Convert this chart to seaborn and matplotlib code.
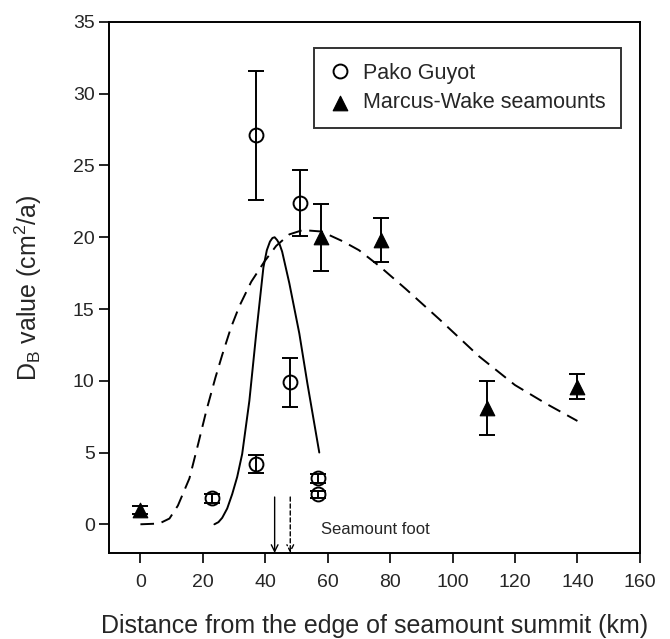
import matplotlib
matplotlib.use("Agg")
import matplotlib.pyplot as plt
import seaborn as sns
import pandas as pd

# Pako Guyot (open circles)
pako_x = [23, 37, 37, 48, 51, 57, 57]
pako_y = [1.8, 4.2, 27.1, 9.9, 22.4, 3.2, 2.1]
pako_err = [0.3, 0.65, 4.5, 1.7, 2.3, 0.3, 0.25]

# Marcus-Wake seamounts (filled triangles)
mw_x = [0, 58, 77, 111, 140]
mw_y = [1.0, 20.0, 19.8, 8.1, 9.6]
mw_err = [0.25, 2.35, 1.55, 1.9, 0.9]

# Solid fitted curve (Pako Guyot)
solid_x = [23.7, 25.0, 26.2, 27.8, 29.4, 31.0, 32.6, 34.9, 37.1, 39.4, 40.5, 41.5, 42.3, 43.0, 43.8, 44.6, 45.4, 47.7, 50.9, 53.5, 57.3]
solid_y = [0.0, 0.15, 0.45, 1.1, 2.1, 3.3, 4.9, 8.6, 13.3, 17.9, 19.1, 19.7, 19.95, 20.0, 19.8, 19.5, 19.0, 16.8, 13.3, 9.8, 5.0]

# Dashed fitted curve (Marcus-Wake)
dash_x = [0, 6, 9.3, 12, 15.7, 18.5, 21.1, 24.0, 26.2, 29.0, 31.7, 35.5, 39.7, 43.5, 47.7, 52, 58, 65, 70, 76.5, 85, 95.7, 108.5, 120, 130, 140]
dash_y = [0.0, 0.05, 0.4, 1.3, 3.2, 5.6, 7.9, 10.2, 11.8, 13.7, 15.2, 16.9, 18.3, 19.4, 20.2, 20.5, 20.4, 19.7, 19.1, 18.0, 16.4, 14.3, 11.7, 9.7, 8.4, 7.2]

# Seamount foot arrows
arrow_x = [43, 48]

sns.set_theme(style="ticks")
plt.rcParams['font.family'] = ['Liberation Sans', 'DejaVu Sans']
plt.rcParams['mathtext.fontset'] = 'custom'
plt.rcParams['mathtext.rm'] = 'Liberation Sans'

fig = plt.figure(figsize=(6.7, 6.39), dpi=100)
ax = fig.add_axes([0.163, 0.1346, 0.792, 0.831])

sns.lineplot(x=solid_x, y=solid_y, ax=ax, color='black', lw=1.4, sort=False, estimator=None)
sns.lineplot(x=dash_x, y=dash_y, ax=ax, color='black', lw=1.4, sort=False, estimator=None)
ax.lines[-1].set_dashes([7, 4])

ax.errorbar(pako_x, pako_y, yerr=pako_err, fmt='none', ecolor='black', elinewidth=1.4,
            capsize=6, capthick=1.4, zorder=3)
ax.errorbar(mw_x, mw_y, yerr=mw_err, fmt='none', ecolor='black', elinewidth=1.4,
            capsize=6, capthick=1.4, zorder=3)

pako_df = pd.DataFrame({"x": pako_x, "y": pako_y})
mw_df = pd.DataFrame({"x": mw_x, "y": mw_y})
ax.plot(pako_df.x, pako_df.y, 'o', ms=10, mfc='none', mec='black', mew=1.4,
        label='Pako Guyot', zorder=4)
sns.scatterplot(data=mw_df, x="x", y="y", ax=ax, marker='^', s=110, color='black',
                edgecolor='black', label='Marcus-Wake seamounts', zorder=4)

for i, xa in enumerate(arrow_x):
    ax.annotate('', xy=(xa, -2), xytext=(xa, 1.9),
                arrowprops=dict(arrowstyle='->', color='black', lw=1.0,
                                linestyle='-' if i == 0 else (0, (3, 2)),
                                shrinkA=0, shrinkB=0))
ax.text(58, -0.35, 'Seamount foot', fontsize=12, va='center', ha='left')

ax.set_xlim(-10, 160)
ax.set_ylim(-2, 35)
ax.set_xticks(range(0, 161, 20))
ax.set_yticks(range(0, 36, 5))
ax.tick_params(axis='both', labelsize=14, length=7, width=1.2, direction='out', color='black')
ax.tick_params(axis='x', pad=8)
ax.tick_params(axis='y', pad=3.5)
for s in ax.spines.values():
    s.set_linewidth(1.4)
    s.set_color('black')
    s.set_visible(True)

ax.set_xlabel('Distance from the edge of seamount summit (km)', fontsize=18, labelpad=17)
ax.set_ylabel(r'D$_\mathregular{B}$ value (cm$^\mathregular{2}$/a)', fontsize=18, labelpad=21)

leg = ax.legend(loc='upper right', bbox_to_anchor=(0.985, 0.972), fontsize=15.5,
                frameon=True, fancybox=False, edgecolor='black', handletextpad=0.6,
                borderpad=0.7, labelspacing=0.4, handlelength=1.0)
leg.get_frame().set_linewidth(1.4)

fig.savefig('out.png', dpi=100)
